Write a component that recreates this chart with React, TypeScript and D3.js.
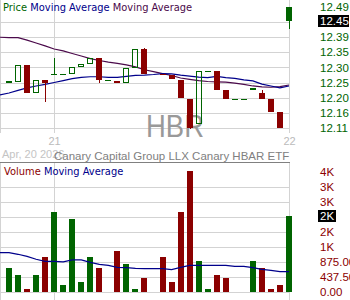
import React from "react";
import * as d3 from "d3";

// ---- data ----
const openP = [12.251, 12.254, 12.308, 12.220, 12.261, 12.280, 12.280, 12.280, 12.302, 12.311, 12.330, 12.262, 12.258, 12.251, 12.298, 12.358, null, 12.279, 12.276, 12.261, 12.201, 12.123, 12.289, 12.289, 12.229, 12.201, 12.201, 12.229, 12.220, 12.201, 12.160, 12.490];
const highP = [12.258, 12.308, 12.308, 12.261, 12.261, 12.330, 12.280, 12.302, 12.311, 12.330, 12.330, 12.262, 12.258, 12.298, 12.358, 12.361, null, 12.279, 12.276, 12.261, 12.201, 12.289, 12.289, 12.289, 12.229, 12.201, 12.201, 12.236, 12.229, 12.201, 12.160, 12.490];
const lowP = [12.251, 12.254, 12.220, 12.220, 12.192, 12.280, 12.280, 12.280, 12.302, 12.311, 12.251, 12.262, 12.251, 12.251, 12.298, 12.280, null, 12.279, 12.264, 12.204, 12.107, 12.123, 12.289, 12.229, 12.201, 12.201, 12.201, 12.229, 12.201, 12.160, 12.110, 12.421];
const closeP = [12.258, 12.308, 12.220, 12.261, 12.251, 12.280, 12.280, 12.302, 12.311, 12.330, 12.261, 12.262, 12.251, 12.298, 12.358, 12.280, null, 12.279, 12.264, 12.204, 12.110, 12.289, 12.289, 12.229, 12.201, 12.201, 12.201, 12.236, 12.201, 12.160, 12.110, 12.447];
const volumes = [700, 496, 88, 496, 1030, 2333, 204, 2129, 292, 1030, 700, 0, 1196, 817, 88, 408, 0, 1021, 292, 2333, 3530, 904, 88, 496, 408, 0, 0, 904, 700, 88, 204, 2217];
// moving averages: first value sits at the left edge, then one per candle
const maPurple = [12.395, 12.394, 12.394, 12.386, 12.377, 12.368, 12.358, 12.352, 12.344, 12.336, 12.328, 12.322, 12.317, 12.313, 12.308, 12.302, 12.293, 12.287, 12.281, 12.275, 12.267, 12.263, 12.259, 12.256, 12.255, 12.254, 12.251, 12.247, 12.242, 12.239, 12.238, 12.240, 12.245];
const maBlue = [12.214, 12.220, 12.228, 12.236, 12.242, 12.247, 12.253, 12.259, 12.265, 12.269, 12.271, 12.271, 12.269, 12.269, 12.272, 12.275, 12.276, 12.278, 12.281, 12.280, 12.276, 12.273, 12.270, 12.268, 12.272, 12.268, 12.266, 12.261, 12.258, 12.248, 12.242, 12.236, 12.242];
const volMA = [1149, 1149, 1100, 1041, 954, 896, 896, 881, 939, 939, 866, 808, 779, 720, 712, 691, 683, 683, 683, 653, 720, 779, 779, 779, 779, 779, 750, 750, 712, 662, 633, 595, 595];
const priceTicks = [12.11, 12.1575, 12.205, 12.2525, 12.30, 12.3475, 12.395, 12.4425, 12.49];
const priceTickLabels = ["12.11", "12.16", "12.20", "12.25", "12.30", "12.35", "12.39", "12.44", "12.49"];
const volTicks = [0, 437.5, 875, 1312.5, 1750, 2187.5, 2625, 3062.5, 3500];
const volTickLabels = ["0.00", "437.50", "875.00", "1K", "2K", "2K", "3K", "3K", "4K"];
const dateLabels = [{ i: 5, label: "21" }, { i: 31, label: "22" }];
const ticker = "HBR";
const fundName = "Canary Capital Group LLX Canary HBAR ETF";
const dateText = "Apr, 20 2026";

const GREEN = "#006400";
const RED = "#8b0000";
const NAVY = "#00008b";
const PURPLE = "#4b0a4b";
const GRID = "#d3d3d3";
const SANS = "'Liberation Sans', Arial, sans-serif";
const LEG = "'DejaVu Sans', Verdana, sans-serif";

export default function App() {
  const x = d3.scaleLinear().domain([0, 31]).range([9, 289]);
  const y = d3.scaleLinear().domain([12.11, 12.49]).range([128, 7]);
  const yv = d3.scaleLinear().domain([0, 3500]).range([292, 172]);
  const cx = (i: number) => Math.round(x(i));
  const plotR = 290;

  const lineP = d3.line<number>().x((_, k) => (k === 0 ? 0 : x(k - 1))).y((d) => y(d));
  const lineV = d3.line<number>().x((_, k) => (k === 0 ? 0 : x(k - 1))).y((d) => yv(d));

  const colorOf = (i: number) => {
    let prev: number | null = null;
    for (let k = i - 1; k >= 0; k--) if (closeP[k] != null) { prev = closeP[k] as number; break; }
    const c = closeP[i] as number;
    if (prev == null) return c >= (openP[i] as number) ? GREEN : RED;
    return c >= prev ? GREEN : RED;
  };

  const lastClose = closeP[31] as number;
  const lastVol = volumes[31];
  const hiTickIdx = priceTicks.reduce((b, t, k) => (Math.abs(t - lastClose) < Math.abs(priceTicks[b] - lastClose) ? k : b), 0);
  const hiVolIdx = volTicks.reduce((b, t, k) => (Math.abs(t - lastVol) < Math.abs(volTicks[b] - lastVol) ? k : b), 0);

  return (
    <svg width={350} height={300} style={{ position: "absolute", left: 0, top: 0, background: "#fff" }}>
      <defs>
        <clipPath id="plotclip"><rect x={0} y={0} width={plotR} height={300} /></clipPath>
      </defs>
      {/* price gridlines */}
      {priceTicks.slice(0, 8).map((t, k) => (
        <line key={"pg" + k} x1={0} x2={plotR} y1={Math.round(y(t)) + 0.5} y2={Math.round(y(t)) + 0.5} stroke={GRID} strokeWidth={1} />
      ))}
      {/* vertical lines */}
      <line x1={0.5} x2={0.5} y1={0} y2={133} stroke={GRID} />
      {dateLabels.map((d) => (
        <line key={"vg" + d.i} x1={cx(d.i) + 0.5} x2={cx(d.i) + 0.5} y1={0} y2={133} stroke={GRID} />
      ))}
      {/* watermark */}
      <text x={175} y={137} textAnchor="middle" fontFamily={SANS} fontSize={31} fill="#999" textLength={58} lengthAdjust="spacingAndGlyphs">{ticker}</text>
      {/* moving averages */}
      <g clipPath="url(#plotclip)">
        <path d={lineP(maPurple) || ""} fill="none" stroke={PURPLE} strokeWidth={1.2} />
        <path d={lineP(maBlue) || ""} fill="none" stroke={NAVY} strokeWidth={1.2} />
      </g>
      {/* candles */}
      {openP.map((o, i) => {
        if (o == null) return null;
        const c = closeP[i] as number;
        const h = highP[i] as number;
        const l = lowP[i] as number;
        const col = colorOf(i);
        const X = cx(i);
        const top = Math.round(y(Math.max(o, c)));
        const bot = Math.round(y(Math.min(o, c)));
        const filled = c < o;
        return (
          <g key={"c" + i}>
            {Math.round(y(h)) < top && <line x1={X + 0.5} x2={X + 0.5} y1={Math.round(y(h))} y2={top} stroke={col} />}
            {Math.round(y(l)) > bot && <line x1={X + 0.5} x2={X + 0.5} y1={bot} y2={Math.round(y(l))} stroke={col} />}
            {bot - top < 1 ? (
              <line x1={X - 3} x2={X + 3} y1={top + 0.5} y2={top + 0.5} stroke={col} />
            ) : filled ? (
              <rect x={X - 3} y={top} width={6} height={bot - top} fill={col} />
            ) : (
              <rect x={X - 2.5} y={top + 0.5} width={5} height={bot - top - 1} fill="none" stroke={col} />
            )}
          </g>
        );
      })}
      {/* price legend */}
      <text x={3} y={11} fontFamily={LEG} fontSize={9.9}>
        <tspan fill={GREEN}>Price </tspan>
        <tspan fill={NAVY}>Moving Average </tspan>
        <tspan fill={PURPLE}>Moving Average</tspan>
      </text>
      {/* price axis labels */}
      {priceTicks.map((t, k) =>
        k === hiTickIdx ? null : (
          <text key={"pl" + k} x={320} y={y(t)} dy="0.35em" fontFamily={SANS} fontSize={11.5} fill={GREEN}>{priceTickLabels[k]}</text>
        )
      )}
      <rect x={318} y={Math.round(y(lastClose)) - 6} width={31} height={12} fill="#000" />
      <text x={320} y={Math.round(y(lastClose))} dy="0.35em" fontFamily={SANS} fontSize={11.5} fill="#fff">{d3.format(".2f")(lastClose)}</text>
      {/* date labels */}
      {dateLabels.map((d) => (
        <text key={"dl" + d.i} x={cx(d.i) + 0.5} y={141} dy="0.35em" textAnchor="middle" fontFamily={SANS} fontSize={11} fill="#bbb">{d.label}</text>
      ))}
      <text x={2} y={158} fontFamily={SANS} fontSize={11} fill="#c4c4c4">{dateText}</text>
      <text x={54} y={160} fontFamily={SANS} fontSize={11.5} fill="#808080">{fundName}</text>
      <line x1={0} x2={plotR} y1={162.5} y2={162.5} stroke="#808080" />
      {/* volume gridlines */}
      {volTicks.slice(0, 8).map((t, k) => (
        <line key={"vgl" + k} x1={0} x2={plotR} y1={Math.round(yv(t)) + 0.5} y2={Math.round(yv(t)) + 0.5} stroke={GRID} />
      ))}
      <line x1={0.5} x2={0.5} y1={163} y2={300} stroke={GRID} />
      {dateLabels.map((d) => (
        <line key={"vv" + d.i} x1={cx(d.i) + 0.5} x2={cx(d.i) + 0.5} y1={163} y2={300} stroke={GRID} />
      ))}
      {/* volume bars */}
      {volumes.map((v, i) => {
        if (!v || openP[i] == null) return null;
        const X = cx(i);
        const t = Math.round(yv(v));
        return <rect key={"v" + i} x={X - 3} y={t} width={6} height={Math.round(yv(0)) - t} fill={colorOf(i)} />;
      })}
      <g clipPath="url(#plotclip)">
        <path d={lineV(volMA) || ""} fill="none" stroke={NAVY} strokeWidth={1.2} />
      </g>
      {/* volume legend */}
      <text x={4} y={175} fontFamily={LEG} fontSize={9.9}>
        <tspan fill={RED}>Volume </tspan>
        <tspan fill={NAVY}>Moving Average</tspan>
      </text>
      {/* volume axis labels */}
      {volTicks.map((t, k) =>
        k === hiVolIdx ? null : (
          <text key={"vl" + k} x={320} y={yv(t)} dy="0.35em" fontFamily={SANS} fontSize={11.5} fill={RED}>{volTickLabels[k]}</text>
        )
      )}
      <rect x={318} y={Math.round(yv(lastVol)) - 6} width={18} height={12} fill="#000" />
      <text x={320} y={Math.round(yv(lastVol))} dy="0.35em" fontFamily={SANS} fontSize={11.5} fill="#fff">{volTickLabels[hiVolIdx]}</text>
    </svg>
  );
}
